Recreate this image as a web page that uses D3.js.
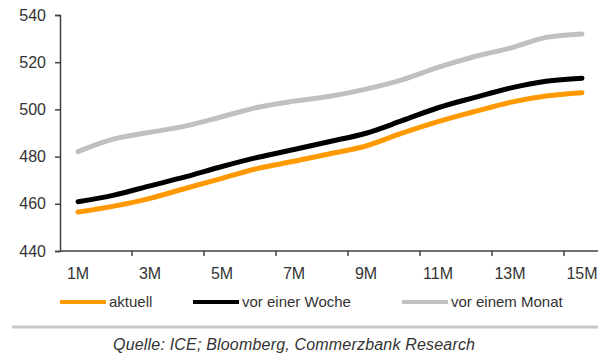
<!DOCTYPE html>
<html><head><meta charset="utf-8">
<script src="https://cdn.jsdelivr.net/npm/d3@7"></script>
<style>
html,body{margin:0;padding:0;background:#fff;}
svg{display:block;font-family:"Liberation Sans",Arial,sans-serif;}
</style></head>
<body><svg id="c" width="598" height="358"></svg>
<script>
const categories = ["1M","2M","3M","4M","5M","6M","7M","8M","9M","10M","11M","12M","13M","14M","15M"];
const tickLabels = ["1M","3M","5M","7M","9M","11M","13M","15M"];
const yTicks = [440,460,480,500,520,540];
const aktuell = [456.5,459,462.3,466.6,470.8,475,478,481.2,484.5,489.9,494.8,499,503,505.7,507.1];
const vorWoche = [460.9,463.7,467.6,471.5,475.8,479.7,483,486.4,489.9,495.2,500.7,505,509,511.9,513.2];
const vorMonat = [482.1,487.5,490.3,493,496.9,500.9,503.5,505.6,508.6,512.5,517.8,522.3,526,530.5,532];
const seriesNames = ["aktuell","vor einer Woche","vor einem Monat"];
const seriesColors = ["#FF9900","#000000","#C0C0C0"];
const source = "Quelle: ICE; Bloomberg, Commerzbank Research";

const svg = d3.select("#c");
const x = d3.scaleBand().domain(categories).range([60,600]);
const y = d3.scaleLinear().domain([440,540]).range([251,15]);

// y axis
const ya = svg.append("g").attr("transform","translate(60,0)")
  .call(d3.axisLeft(y).tickValues(yTicks).tickSize(5).tickPadding(9).tickFormat(d3.format("d")));
ya.select(".domain").attr("stroke","#404040").attr("stroke-width",1.5);
ya.selectAll(".tick line").attr("stroke","#404040").attr("stroke-width",1.5);
ya.selectAll("text").attr("font-size",16).attr("fill","#333").attr("font-family","Liberation Sans, Arial, sans-serif");

// x axis: ticks at boundaries every 2 categories
const xa = svg.append("g").attr("transform","translate(0,251)");
xa.append("line").attr("x1",60).attr("x2",598).attr("y1",0).attr("y2",0)
  .attr("stroke","#404040").attr("stroke-width",1.5);
categories.forEach((c,i)=>{
  if(i%2===0 && i>0){
    const px = x(c);
    xa.append("line").attr("x1",px).attr("x2",px).attr("y1",0).attr("y2",5)
      .attr("stroke","#404040").attr("stroke-width",1.5);
  }
});
tickLabels.forEach(t=>{
  xa.append("text").attr("x",x(t)+x.bandwidth()/2).attr("y",28)
    .attr("text-anchor","middle").attr("font-size",16).attr("fill","#333").text(t);
});

const line = d3.line().x((d,i)=>x(categories[i])+x.bandwidth()/2).y(d=>y(d)).curve(d3.curveMonotoneX);
const data = [vorMonat, vorWoche, aktuell];
const cols = [seriesColors[2], seriesColors[1], seriesColors[0]];
data.forEach((s,k)=>{
  svg.append("path").attr("d",line(s)).attr("fill","none")
    .attr("stroke",cols[k]).attr("stroke-width",5).attr("stroke-linecap","round").attr("stroke-linejoin","round");
});

// legend
const legX = [60,193,402];
seriesNames.forEach((n,i)=>{
  svg.append("line").attr("x1",legX[i]).attr("x2",legX[i]+46).attr("y1",302).attr("y2",302)
    .attr("stroke",seriesColors[i]).attr("stroke-width",4);
  svg.append("text").attr("x",legX[i]+49).attr("y",307).attr("font-size",15).attr("fill","#333").text(n);
});

// separator and source
svg.append("line").attr("x1",12).attr("x2",598).attr("y1",327).attr("y2",327)
  .attr("stroke","#c8c8c8").attr("stroke-width",3);
svg.append("text").attr("x",113).attr("y",350).attr("font-size",16).attr("font-style","italic")
  .attr("fill","#333").attr("textLength",362).attr("lengthAdjust","spacing").text(source);
</script></body></html>
